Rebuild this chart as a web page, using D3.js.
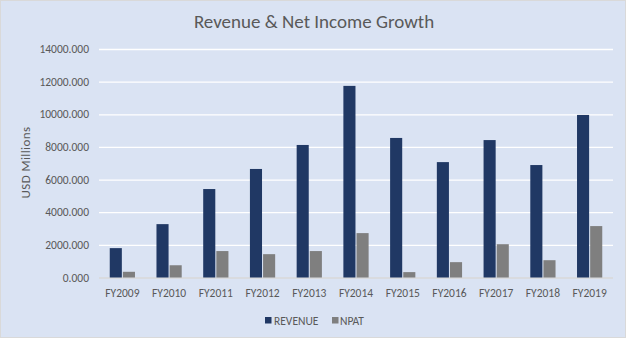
<!DOCTYPE html>
<html>
<head>
<meta charset="utf-8">
<script src="https://cdn.jsdelivr.net/npm/d3@7"></script>
<style>
  html, body { margin: 0; padding: 0; background: #fff; }
  svg { display: block; font-family: Carlito, Lato, "Open Sans", sans-serif; }
</style>
</head>
<body>
<svg id="chart" width="628" height="340"></svg>
<script>
// Fiscal years on the x axis
const years = ["FY2009", "FY2010", "FY2011", "FY2012", "FY2013", "FY2014",
               "FY2015", "FY2016", "FY2017", "FY2018", "FY2019"];
// Revenue, USD millions
const revenue = [1800, 3270, 5420, 6650, 8120, 11740, 8550, 7070, 8420, 6890, 9960];
// Net profit after tax, USD millions
const npat = [350, 750, 1620, 1430, 1620, 2720, 330, 940, 2040, 1060, 3150];
// Series names and y-axis ticks
const seriesNames = ["REVENUE", "NPAT"];
const yTicks = [0, 2000, 4000, 6000, 8000, 10000, 12000, 14000];

const colors = { REVENUE: "#203864", NPAT: "#7f7f7f" };
const textColor = "#595959";

const svg = d3.select("#chart");
const W = 628, H = 340;

// Chart area background and border
svg.append("rect")
  .attr("x", 0.5).attr("y", 0.5)
  .attr("width", W - 3).attr("height", H - 3)
  .attr("fill", "#dae3f3")
  .attr("stroke", "#d9d9d9").attr("stroke-width", 1);

const plot = { left: 99, right: 613, top: 49, bottom: 277.5 };

const x = d3.scaleBand()
  .domain(years)
  .range([plot.left, plot.right])
  .paddingInner(0.46)
  .paddingOuter(0.23);

const xs = d3.scaleBand()
  .domain(seriesNames)
  .range([0, x.bandwidth()])
  .paddingInner(0.08);

const y = d3.scaleLinear()
  .domain([0, 14000])
  .range([plot.bottom, plot.top]);

// Horizontal gridlines
const yAxis = d3.axisLeft(y)
  .tickValues(yTicks)
  .tickSize(-(plot.right - plot.left))
  .tickPadding(10)
  .tickFormat(d3.format(".3f"));

const gy = svg.append("g")
  .attr("transform", `translate(${plot.left},0)`)
  .call(yAxis);
gy.select(".domain").remove();
gy.selectAll(".tick line")
  .attr("stroke", d => d === 0 ? "#d9d9d9" : "#ffffff")
  .attr("stroke-width", 1.3);
gy.selectAll(".tick text")
  .attr("fill", textColor)
  .attr("font-size", 11.5)
  .attr("font-family", "Carlito, Lato, sans-serif");

// Category axis
const gx = svg.append("g")
  .attr("transform", `translate(0,${plot.bottom})`)
  .call(d3.axisBottom(x).tickSize(0).tickPadding(11));
gx.select(".domain").remove();
gx.selectAll(".tick text")
  .attr("fill", textColor)
  .attr("font-size", 11.5)
  .attr("font-family", "Carlito, Lato, sans-serif");

// Bars
const rows = years.map((yr, i) => ({ year: yr, REVENUE: revenue[i], NPAT: npat[i] }));
const groups = svg.append("g").selectAll("g")
  .data(rows)
  .join("g")
  .attr("transform", d => `translate(${x(d.year)},0)`);

groups.selectAll("rect")
  .data(d => seriesNames.map(k => ({ key: k, value: d[k] })))
  .join("rect")
  .attr("x", d => xs(d.key))
  .attr("width", xs.bandwidth())
  .attr("y", d => y(d.value))
  .attr("height", d => y(0) - y(d.value))
  .attr("fill", d => colors[d.key]);

// Title
svg.append("text")
  .attr("x", 314).attr("y", 28)
  .attr("text-anchor", "middle")
  .attr("font-size", 19)
  .attr("fill", textColor)
  .text("Revenue & Net Income Growth");

// Y axis title
svg.append("text")
  .attr("transform", "translate(30,162.5) rotate(-90)")
  .attr("text-anchor", "middle")
  .attr("font-size", 13)
  .attr("letter-spacing", 0.4)
  .attr("fill", textColor)
  .text("USD Millions");

// Legend
const legendPos = [{ sx: 265, tx: 274 }, { sx: 332, tx: 340 }];
const legend = svg.append("g");
seriesNames.forEach((name, i) => {
  legend.append("rect")
    .attr("x", legendPos[i].sx).attr("y", 317)
    .attr("width", 6.5).attr("height", 6.5)
    .attr("fill", colors[name]);
  legend.append("text")
    .attr("x", legendPos[i].tx).attr("y", 324.5)
    .attr("font-size", 11.5)
    .attr("fill", textColor)
    .text(name);
});
</script>
</body>
</html>
